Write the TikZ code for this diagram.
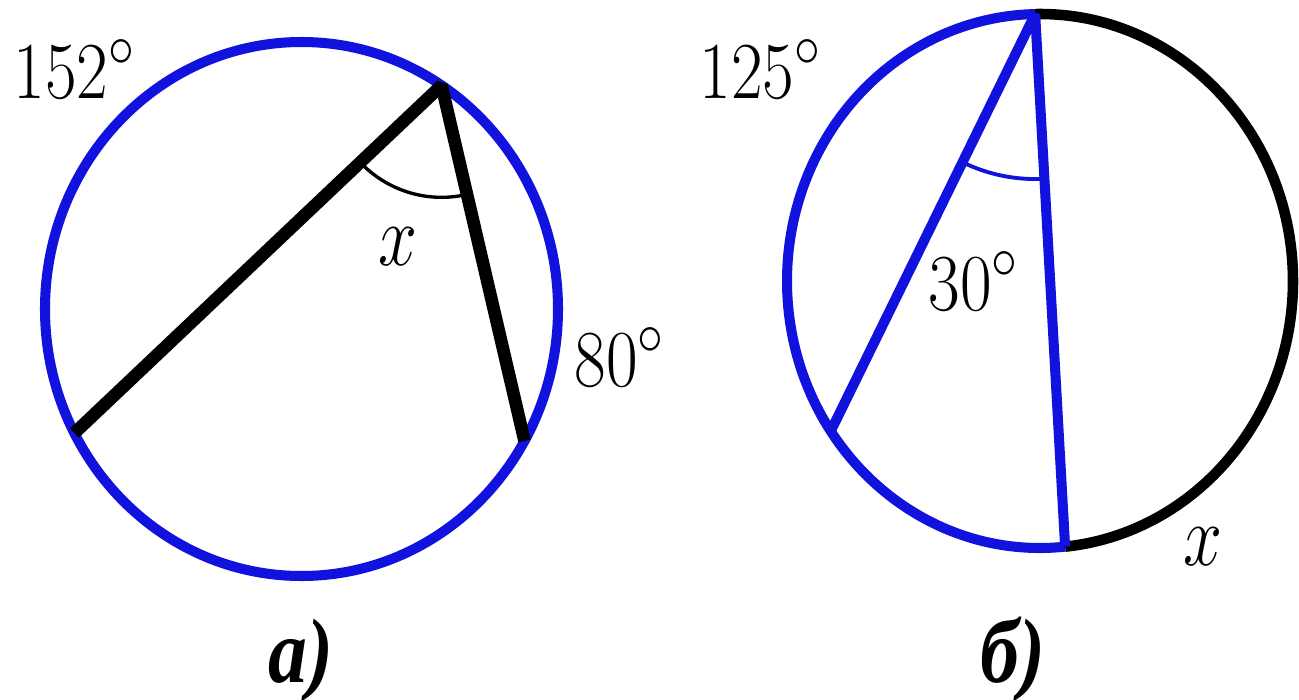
\documentclass[tikz,border=0pt]{standalone}
\usepackage{fontspec}
\usepackage{graphicx}
\newfontfamily\cyrfont{Liberation Serif}
\definecolor{myblue}{RGB}{18,18,222}
\begin{document}
\begin{tikzpicture}[x=0.01cm,y=-0.01cm,
  circ/.style={draw=myblue,line width=2.85pt},
  blackarc/.style={draw=black,line width=3.0pt},
  chordA/.style={draw=black,line width=3.6pt,line join=bevel},
  chordB/.style={draw=myblue,line width=2.85pt,line join=bevel},
  anglemarkA/.style={draw=black,line width=0.95pt},
  anglemarkB/.style={draw=myblue,line width=1.1pt},
  numlbl/.style={inner sep=0pt,anchor=base west,font=\fontsize{23}{26}\selectfont},
  varlbl/.style={inner sep=0pt,anchor=base west,font=\fontsize{25}{28}\selectfont},
  sublbl/.style={inner sep=0pt,anchor=base west,font=\fontsize{26}{30}\selectfont\cyrfont\bfseries\itshape}]
\fill[white] (0,0) rectangle (1299,700);
\useasboundingbox (0,0) rectangle (1299,700);

% ---------- figure a ----------
\coordinate (Ca) at (301.5,309);
\path (Ca) ++(-56.9:256.5 and 267) coordinate (P1);
\path (Ca) ++(152.3:256.5 and 267) coordinate (P2);
\path (Ca) ++(29.6:256.5 and 267) coordinate (P3);
\draw[circ] (Ca) ellipse [x radius=256.5, y radius=267];
\draw[chordA] (P2) -- (P1) -- (P3);
\path (P1) ++(136.6:112) coordinate (A1);
\draw[anglemarkA] (A1) arc[start angle=136.6, end angle=76.7, radius=112];

\node[numlbl] (t152) at (13,98) {\scalebox{0.85}[1]{152$^\circ$}};
\node[numlbl] (t80) at (574,386) {\scalebox{0.85}[1]{80$^\circ$}};
\node[varlbl] (xa) at (378,265) {\scalebox{0.8}[1]{$x$}};
\node[sublbl] (la) at (268,682) {\scalebox{0.85}[1]{а)}};

% ---------- figure b ----------
\coordinate (Cb) at (1040,281);
\path (Cb) ++(-91.1:253 and 267) coordinate (Q1);
\path (Cb) ++(145.8:253 and 267) coordinate (Q2);
\path (Cb) ++(84.3:253 and 267) coordinate (Q3);
\draw[circ] (Q3) arc[start angle=84.3, end angle=268.9, x radius=253, y radius=267];
\draw[blackarc] (Q1) arc[start angle=-91.1, end angle=84.3, x radius=253, y radius=267];
\draw[chordB] (Q2) -- (Q1) -- (Q3);
\path (Q1) ++(115.8:165) coordinate (B1);
\draw[anglemarkB] (B1) arc[start angle=115.8, end angle=86.8, radius=165];

\node[numlbl] (t125) at (699,98) {\scalebox{0.85}[1]{125$^\circ$}};
\node[numlbl] (t30) at (928,310) {\scalebox{0.85}[1]{30$^\circ$}};
\node[varlbl] (xb) at (1183,565) {\scalebox{0.8}[1]{$x$}};
\node[sublbl] (lb) at (980,682) {\scalebox{0.85}[1]{б)}};
\end{tikzpicture}
\end{document}
